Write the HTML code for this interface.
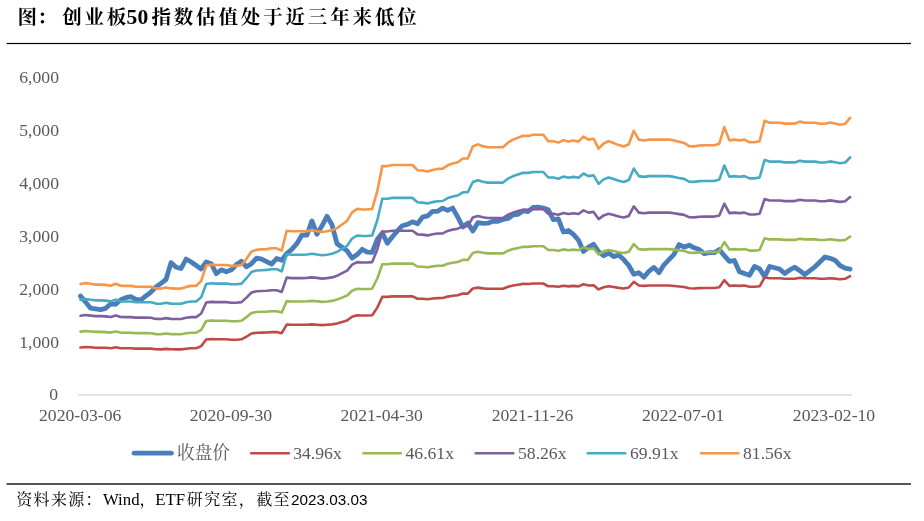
<!DOCTYPE html>
<html lang="zh-CN"><head><meta charset="utf-8"><title>创业板50指数估值</title>
<style>html,body{margin:0;padding:0;background:#fff}body{width:924px;height:521px;overflow:hidden}svg{display:block}</style></head>
<body>
<svg width="924" height="521" viewBox="0 0 924 521">
<rect width="924" height="521" fill="#fff"/>
<line x1="78" y1="395.0" x2="852" y2="395.0" stroke="#D9D9D9" stroke-width="1.5"/>
<path d="M80.5,296.1 L85.5,302.0 L90.6,308.2 L95.6,308.9 L100.6,309.6 L105.7,308.3 L110.7,303.8 L115.7,304.3 L120.7,299.7 L125.8,297.7 L130.8,296.7 L135.8,299.4 L140.9,300.0 L145.9,295.9 L150.9,292.2 L155.9,287.0 L161.0,283.4 L166.0,279.5 L171.0,262.6 L176.1,267.2 L181.1,268.5 L186.1,259.0 L191.2,262.0 L196.2,265.5 L201.2,268.9 L206.2,262.0 L211.3,263.7 L216.3,273.7 L221.3,269.8 L226.4,271.8 L231.4,269.8 L236.4,264.6 L241.5,261.3 L246.5,266.8 L251.5,263.7 L256.6,258.1 L261.6,259.2 L266.6,261.6 L271.6,264.2 L276.7,258.5 L281.7,260.3 L286.7,253.5 L291.8,249.3 L296.8,243.7 L301.8,235.2 L306.9,235.2 L311.9,220.9 L316.9,234.2 L321.9,226.1 L327.0,216.3 L332.0,224.8 L337.0,243.7 L342.1,247.3 L347.1,250.9 L352.1,258.1 L357.2,254.6 L362.2,249.3 L367.2,252.2 L372.2,252.3 L377.3,239.3 L382.3,232.9 L387.3,243.3 L392.4,236.8 L397.4,230.9 L402.4,225.7 L407.4,224.4 L412.5,221.8 L417.5,223.7 L422.5,217.2 L427.6,215.9 L432.6,211.3 L437.6,211.3 L442.7,208.1 L447.7,210.4 L452.7,208.1 L457.8,217.2 L462.8,227.0 L467.8,223.1 L472.8,230.9 L477.9,222.7 L482.9,223.4 L487.9,223.2 L493.0,221.3 L498.0,221.3 L503.0,219.4 L508.1,218.5 L513.1,214.8 L518.1,214.4 L523.1,210.9 L528.2,211.5 L533.2,207.4 L538.2,207.2 L543.3,208.0 L548.3,209.8 L553.3,219.6 L558.4,219.0 L563.4,232.0 L568.4,230.5 L573.4,234.4 L578.5,240.3 L583.5,251.4 L588.5,247.2 L593.6,244.3 L598.6,251.5 L603.6,255.7 L608.6,253.1 L613.7,256.6 L618.7,255.0 L623.7,259.6 L628.8,265.5 L633.8,274.3 L638.8,272.7 L643.9,277.2 L648.9,271.3 L653.9,267.4 L659.0,272.7 L664.0,264.8 L669.0,259.6 L674.0,254.4 L679.1,244.6 L684.1,247.2 L689.1,245.2 L694.2,247.8 L699.2,249.5 L704.2,253.6 L709.2,252.7 L714.3,252.7 L719.3,249.5 L724.3,255.7 L729.4,261.3 L734.4,260.5 L739.4,271.7 L744.5,273.6 L749.5,275.3 L754.5,266.5 L759.6,268.7 L764.6,276.6 L769.6,266.5 L774.6,267.8 L779.7,269.1 L784.7,273.5 L789.7,270.0 L794.8,267.2 L799.8,270.7 L804.8,274.5 L809.9,270.7 L814.9,266.8 L819.9,262.0 L824.9,257.0 L830.0,258.3 L835.0,260.2 L840.0,265.5 L845.1,268.1 L850.1,269.1" fill="none" stroke="#4A7EBB" stroke-width="4.8" stroke-linejoin="round" stroke-linecap="round"/>
<path d="M80.5,347.5 L85.5,347.0 L90.6,347.3 L95.6,347.7 L100.6,347.7 L105.7,347.8 L110.7,348.2 L115.7,347.3 L120.7,348.2 L125.8,348.2 L130.8,348.2 L135.8,348.6 L140.9,348.6 L145.9,348.6 L150.9,348.6 L155.9,349.3 L161.0,349.4 L166.0,348.9 L171.0,349.3 L176.1,349.4 L181.1,349.4 L186.1,348.7 L191.2,348.2 L196.2,348.2 L201.2,346.1 L206.2,339.5 L211.3,339.1 L216.3,339.3 L221.3,339.3 L226.4,339.3 L231.4,339.7 L236.4,339.7 L241.5,339.3 L246.5,336.6 L251.5,333.5 L256.6,332.8 L261.6,332.6 L266.6,332.5 L271.6,332.1 L276.7,332.1 L281.7,333.2 L286.7,324.6 L291.8,324.8 L296.8,324.8 L301.8,324.8 L306.9,324.8 L311.9,324.4 L316.9,324.8 L321.9,325.1 L327.0,324.8 L332.0,324.4 L337.0,323.5 L342.1,321.9 L347.1,320.4 L352.1,316.7 L357.2,315.2 L362.2,315.5 L367.2,315.5 L372.2,315.2 L377.3,307.6 L382.3,296.9 L387.3,296.9 L392.4,296.4 L397.4,296.4 L402.4,296.4 L407.4,296.4 L412.5,296.4 L417.5,298.7 L422.5,298.8 L427.6,299.3 L432.6,298.5 L437.6,298.1 L442.7,298.0 L447.7,296.6 L452.7,295.8 L457.8,295.2 L462.8,293.6 L467.8,293.6 L472.8,288.5 L477.9,287.6 L482.9,288.4 L487.9,288.8 L493.0,288.8 L498.0,288.8 L503.0,288.8 L508.1,286.8 L513.1,285.5 L518.1,284.7 L523.1,283.9 L528.2,284.0 L533.2,283.5 L538.2,283.5 L543.3,283.5 L548.3,286.3 L553.3,286.3 L558.4,286.8 L563.4,285.8 L568.4,286.4 L573.4,285.9 L578.5,286.4 L583.5,284.3 L588.5,285.5 L593.6,285.2 L598.6,289.4 L603.6,287.2 L608.6,286.3 L613.7,287.0 L618.7,287.9 L623.7,288.5 L628.8,287.5 L633.8,281.8 L638.8,285.5 L643.9,285.9 L648.9,285.5 L653.9,285.5 L659.0,285.5 L664.0,285.5 L669.0,285.5 L674.0,286.0 L679.1,286.5 L684.1,287.0 L689.1,288.3 L694.2,288.5 L699.2,288.1 L704.2,288.0 L709.2,288.0 L714.3,288.0 L719.3,287.3 L724.3,280.2 L729.4,285.9 L734.4,285.5 L739.4,285.9 L744.5,285.5 L749.5,286.7 L754.5,286.7 L759.6,286.3 L764.6,277.5 L769.6,278.3 L774.6,278.3 L779.7,278.3 L784.7,278.7 L789.7,278.7 L794.8,278.7 L799.8,277.8 L804.8,278.3 L809.9,278.3 L814.9,278.3 L819.9,278.7 L824.9,278.8 L830.0,278.2 L835.0,278.6 L840.0,279.2 L845.1,278.8 L850.1,276.2" fill="none" stroke="#BE4B48" stroke-width="2.6" stroke-linejoin="round" stroke-linecap="round"/>
<path d="M80.5,331.6 L85.5,331.0 L90.6,331.5 L95.6,331.9 L100.6,331.9 L105.7,332.1 L110.7,332.6 L115.7,331.4 L120.7,332.6 L125.8,332.7 L130.8,332.7 L135.8,333.1 L140.9,333.1 L145.9,333.1 L150.9,333.2 L155.9,334.1 L161.0,334.2 L166.0,333.5 L171.0,334.1 L176.1,334.2 L181.1,334.2 L186.1,333.2 L191.2,332.7 L196.2,332.7 L201.2,329.8 L206.2,321.0 L211.3,320.5 L216.3,320.7 L221.3,320.7 L226.4,320.7 L231.4,321.2 L236.4,321.2 L241.5,320.7 L246.5,317.1 L251.5,313.0 L256.6,312.0 L261.6,311.8 L266.6,311.6 L271.6,311.2 L276.7,311.2 L281.7,312.5 L286.7,301.1 L291.8,301.5 L296.8,301.5 L301.8,301.5 L306.9,301.3 L311.9,300.9 L316.9,301.3 L321.9,301.9 L327.0,301.5 L332.0,300.9 L337.0,299.6 L342.1,297.6 L347.1,295.5 L352.1,290.7 L357.2,288.7 L362.2,289.0 L367.2,289.0 L372.2,288.7 L377.3,278.5 L382.3,264.2 L387.3,264.2 L392.4,263.6 L397.4,263.6 L402.4,263.6 L407.4,263.6 L412.5,263.6 L417.5,266.5 L422.5,266.7 L427.6,267.3 L432.6,266.4 L437.6,265.8 L442.7,265.7 L447.7,263.7 L452.7,262.7 L457.8,262.0 L462.8,259.9 L467.8,259.9 L472.8,253.0 L477.9,251.8 L482.9,252.8 L487.9,253.4 L493.0,253.4 L498.0,253.4 L503.0,253.4 L508.1,250.7 L513.1,249.1 L518.1,247.9 L523.1,246.8 L528.2,246.9 L533.2,246.3 L538.2,246.3 L543.3,246.3 L548.3,250.0 L553.3,250.0 L558.4,250.8 L563.4,249.4 L568.4,250.2 L573.4,249.6 L578.5,250.2 L583.5,247.3 L588.5,249.1 L593.6,248.5 L598.6,254.3 L603.6,251.3 L608.6,250.0 L613.7,251.1 L618.7,252.2 L623.7,253.0 L628.8,251.7 L633.8,244.0 L638.8,249.1 L643.9,249.6 L648.9,249.1 L653.9,249.1 L659.0,249.1 L664.0,249.1 L669.0,249.1 L674.0,249.6 L679.1,250.3 L684.1,250.9 L689.1,252.8 L694.2,252.9 L699.2,252.4 L704.2,252.3 L709.2,252.3 L714.3,252.3 L719.3,251.4 L724.3,242.0 L729.4,249.5 L734.4,249.1 L739.4,249.5 L744.5,249.1 L749.5,250.6 L754.5,250.6 L759.6,250.0 L764.6,238.3 L769.6,239.4 L774.6,239.4 L779.7,239.4 L784.7,239.9 L789.7,239.9 L794.8,239.9 L799.8,238.8 L804.8,239.4 L809.9,239.4 L814.9,239.4 L819.9,240.0 L824.9,240.0 L830.0,239.3 L835.0,239.9 L840.0,240.5 L845.1,240.0 L850.1,236.7" fill="none" stroke="#98B954" stroke-width="2.6" stroke-linejoin="round" stroke-linecap="round"/>
<path d="M80.5,315.8 L85.5,315.0 L90.6,315.6 L95.6,316.1 L100.6,316.1 L105.7,316.4 L110.7,317.0 L115.7,315.5 L120.7,317.0 L125.8,317.1 L130.8,317.1 L135.8,317.6 L140.9,317.6 L145.9,317.6 L150.9,317.7 L155.9,318.9 L161.0,319.0 L166.0,318.1 L171.0,318.9 L176.1,319.0 L181.1,319.0 L186.1,317.8 L191.2,317.1 L196.2,317.1 L201.2,313.5 L206.2,302.5 L211.3,301.9 L216.3,302.1 L221.3,302.1 L226.4,302.1 L231.4,302.8 L236.4,302.8 L241.5,302.1 L246.5,297.6 L251.5,292.5 L256.6,291.3 L261.6,291.0 L266.6,290.8 L271.6,290.2 L276.7,290.2 L281.7,291.9 L286.7,277.6 L291.8,278.1 L296.8,278.1 L301.8,278.1 L306.9,277.9 L311.9,277.4 L316.9,277.9 L321.9,278.6 L327.0,278.1 L332.0,277.4 L337.0,275.8 L342.1,273.2 L347.1,270.6 L352.1,264.6 L357.2,262.1 L362.2,262.5 L367.2,262.5 L372.2,262.1 L377.3,249.4 L382.3,231.5 L387.3,231.5 L392.4,230.7 L397.4,230.7 L402.4,230.7 L407.4,230.7 L412.5,230.7 L417.5,234.4 L422.5,234.6 L427.6,235.4 L432.6,234.2 L437.6,233.5 L442.7,233.4 L447.7,230.9 L452.7,229.6 L457.8,228.7 L462.8,226.1 L467.8,226.1 L472.8,217.5 L477.9,216.0 L482.9,217.3 L487.9,218.0 L493.0,218.0 L498.0,218.0 L503.0,218.0 L508.1,214.6 L513.1,212.6 L518.1,211.1 L523.1,209.8 L528.2,209.9 L533.2,209.1 L538.2,209.1 L543.3,209.1 L548.3,213.8 L553.3,213.8 L558.4,214.7 L563.4,213.0 L568.4,214.0 L573.4,213.2 L578.5,214.0 L583.5,210.4 L588.5,212.6 L593.6,211.9 L598.6,219.1 L603.6,215.4 L608.6,213.8 L613.7,215.1 L618.7,216.5 L623.7,217.5 L628.8,215.9 L633.8,206.3 L638.8,212.6 L643.9,213.2 L648.9,212.6 L653.9,212.6 L659.0,212.6 L664.0,212.6 L669.0,212.6 L674.0,213.3 L679.1,214.1 L684.1,214.9 L689.1,217.2 L694.2,217.4 L699.2,216.8 L704.2,216.6 L709.2,216.6 L714.3,216.6 L719.3,215.5 L724.3,203.7 L729.4,213.1 L734.4,212.6 L739.4,213.1 L744.5,212.6 L749.5,214.5 L754.5,214.5 L759.6,213.8 L764.6,199.1 L769.6,200.5 L774.6,200.5 L779.7,200.5 L784.7,201.1 L789.7,201.1 L794.8,201.1 L799.8,199.7 L804.8,200.5 L809.9,200.5 L814.9,200.5 L819.9,201.2 L824.9,201.3 L830.0,200.4 L835.0,201.1 L840.0,201.9 L845.1,201.3 L850.1,197.1" fill="none" stroke="#7D60A0" stroke-width="2.6" stroke-linejoin="round" stroke-linecap="round"/>
<path d="M80.5,299.9 L85.5,299.0 L90.6,299.7 L95.6,300.4 L100.6,300.4 L105.7,300.6 L110.7,301.4 L115.7,299.6 L120.7,301.4 L125.8,301.5 L130.8,301.5 L135.8,302.2 L140.9,302.2 L145.9,302.2 L150.9,302.3 L155.9,303.6 L161.0,303.8 L166.0,302.8 L171.0,303.6 L176.1,303.8 L181.1,303.8 L186.1,302.3 L191.2,301.5 L196.2,301.5 L201.2,297.2 L206.2,284.0 L211.3,283.2 L216.3,283.6 L221.3,283.6 L226.4,283.6 L231.4,284.3 L236.4,284.3 L241.5,283.6 L246.5,278.2 L251.5,272.0 L256.6,270.5 L261.6,270.2 L266.6,269.9 L271.6,269.3 L276.7,269.3 L281.7,271.3 L286.7,254.2 L291.8,254.7 L296.8,254.7 L301.8,254.7 L306.9,254.5 L311.9,253.8 L316.9,254.5 L321.9,255.3 L327.0,254.7 L332.0,253.8 L337.0,251.9 L342.1,248.9 L347.1,245.8 L352.1,238.5 L357.2,235.5 L362.2,236.0 L367.2,236.0 L372.2,235.5 L377.3,220.2 L382.3,198.8 L387.3,198.8 L392.4,197.9 L397.4,197.9 L402.4,197.9 L407.4,197.9 L412.5,197.9 L417.5,202.3 L422.5,202.6 L427.6,203.5 L432.6,202.1 L437.6,201.2 L442.7,201.0 L447.7,198.1 L452.7,196.6 L457.8,195.5 L462.8,192.3 L467.8,192.3 L472.8,182.0 L477.9,180.2 L482.9,181.7 L487.9,182.6 L493.0,182.6 L498.0,182.6 L503.0,182.6 L508.1,178.6 L513.1,176.1 L518.1,174.4 L523.1,172.7 L528.2,172.9 L533.2,172.0 L538.2,172.0 L543.3,172.0 L548.3,177.5 L553.3,177.5 L558.4,178.7 L563.4,176.6 L568.4,177.8 L573.4,176.9 L578.5,177.8 L583.5,173.5 L588.5,176.1 L593.6,175.3 L598.6,183.9 L603.6,179.4 L608.6,177.5 L613.7,179.1 L618.7,180.8 L623.7,182.0 L628.8,180.0 L633.8,168.5 L638.8,176.1 L643.9,176.9 L648.9,176.1 L653.9,176.1 L659.0,176.1 L664.0,176.1 L669.0,176.1 L674.0,176.9 L679.1,178.0 L684.1,178.9 L689.1,181.7 L694.2,181.9 L699.2,181.1 L704.2,181.0 L709.2,181.0 L714.3,181.0 L719.3,179.6 L724.3,165.5 L729.4,176.8 L734.4,176.1 L739.4,176.8 L744.5,176.1 L749.5,178.4 L754.5,178.4 L759.6,177.5 L764.6,160.0 L769.6,161.6 L774.6,161.6 L779.7,161.6 L784.7,162.4 L789.7,162.4 L794.8,162.4 L799.8,160.7 L804.8,161.6 L809.9,161.6 L814.9,161.6 L819.9,162.5 L824.9,162.5 L830.0,161.4 L835.0,162.3 L840.0,163.3 L845.1,162.5 L850.1,157.5" fill="none" stroke="#46AAC5" stroke-width="2.6" stroke-linejoin="round" stroke-linecap="round"/>
<path d="M80.5,284.1 L85.5,283.1 L90.6,283.8 L95.6,284.6 L100.6,284.6 L105.7,284.9 L110.7,285.8 L115.7,283.7 L120.7,285.8 L125.8,285.9 L130.8,285.9 L135.8,286.7 L140.9,286.7 L145.9,286.7 L150.9,286.8 L155.9,288.4 L161.0,288.6 L166.0,287.4 L171.0,288.4 L176.1,288.6 L181.1,288.6 L186.1,286.9 L191.2,285.9 L196.2,285.9 L201.2,280.9 L206.2,265.5 L211.3,264.6 L216.3,265.0 L221.3,265.0 L226.4,265.0 L231.4,265.9 L236.4,265.9 L241.5,265.0 L246.5,258.7 L251.5,251.5 L256.6,249.8 L261.6,249.4 L266.6,249.1 L271.6,248.3 L276.7,248.3 L281.7,250.7 L286.7,230.7 L291.8,231.3 L296.8,231.3 L301.8,231.3 L306.9,231.1 L311.9,230.3 L316.9,231.1 L321.9,232.0 L327.0,231.3 L332.0,230.3 L337.0,228.1 L342.1,224.5 L347.1,220.9 L352.1,212.4 L357.2,208.9 L362.2,209.5 L367.2,209.5 L372.2,208.9 L377.3,191.1 L382.3,166.1 L387.3,166.1 L392.4,165.0 L397.4,165.0 L402.4,165.0 L407.4,165.0 L412.5,165.0 L417.5,170.2 L422.5,170.5 L427.6,171.6 L432.6,169.9 L437.6,168.9 L442.7,168.7 L447.7,165.3 L452.7,163.5 L457.8,162.2 L462.8,158.5 L467.8,158.5 L472.8,146.5 L477.9,144.4 L482.9,146.2 L487.9,147.2 L493.0,147.2 L498.0,147.2 L503.0,147.2 L508.1,142.5 L513.1,139.6 L518.1,137.6 L523.1,135.7 L528.2,135.9 L533.2,134.8 L538.2,134.8 L543.3,134.8 L548.3,141.3 L553.3,141.3 L558.4,142.6 L563.4,140.2 L568.4,141.6 L573.4,140.5 L578.5,141.6 L583.5,136.6 L588.5,139.6 L593.6,138.7 L598.6,148.7 L603.6,143.5 L608.6,141.3 L613.7,143.1 L618.7,145.1 L623.7,146.5 L628.8,144.2 L633.8,130.8 L638.8,139.6 L643.9,140.5 L648.9,139.6 L653.9,139.6 L659.0,139.6 L664.0,139.6 L669.0,139.6 L674.0,140.6 L679.1,141.8 L684.1,142.9 L689.1,146.1 L694.2,146.4 L699.2,145.5 L704.2,145.3 L709.2,145.3 L714.3,145.3 L719.3,143.7 L724.3,127.2 L729.4,140.4 L734.4,139.6 L739.4,140.4 L744.5,139.6 L749.5,142.3 L754.5,142.3 L759.6,141.3 L764.6,120.8 L769.6,122.7 L774.6,122.7 L779.7,122.7 L784.7,123.6 L789.7,123.6 L794.8,123.6 L799.8,121.6 L804.8,122.7 L809.9,122.7 L814.9,122.7 L819.9,123.7 L824.9,123.8 L830.0,122.5 L835.0,123.5 L840.0,124.7 L845.1,123.8 L850.1,117.9" fill="none" stroke="#F79646" stroke-width="2.6" stroke-linejoin="round" stroke-linecap="round"/>
<g font-family="'Liberation Serif', serif" font-size="17.65" fill="#595959">
<text x="58.2" y="400.3" text-anchor="end">0</text>
<text x="59" y="347.8" text-anchor="end">1,000</text>
<text x="59" y="294.8" text-anchor="end">2,000</text>
<text x="59" y="241.8" text-anchor="end">3,000</text>
<text x="59" y="188.9" text-anchor="end">4,000</text>
<text x="59" y="135.9" text-anchor="end">5,000</text>
<text x="59" y="82.9" text-anchor="end">6,000</text>
<text x="80.2" y="420.9" text-anchor="middle">2020-03-06</text>
<text x="230.9" y="420.9" text-anchor="middle">2020-09-30</text>
<text x="381.7" y="420.9" text-anchor="middle">2021-04-30</text>
<text x="532.5" y="420.9" text-anchor="middle">2021-11-26</text>
<text x="683.2" y="420.9" text-anchor="middle">2022-07-01</text>
<text x="834.0" y="420.9" text-anchor="middle">2023-02-10</text>
</g>
<g font-family="'Liberation Serif', 'Noto Serif CJK SC', serif" font-size="17.65" fill="#595959">
<line x1="134.0" y1="453.2" x2="171.4" y2="453.2" stroke="#4A7EBB" stroke-width="4.8" stroke-linecap="round"/>
<text x="177" y="459">收盘价</text>
<line x1="251.3" y1="453.2" x2="288.7" y2="453.2" stroke="#BE4B48" stroke-width="2.6" stroke-linecap="round"/>
<text x="293.2" y="459">34.96x</text>
<line x1="363.5" y1="453.2" x2="400.7" y2="453.2" stroke="#98B954" stroke-width="2.6" stroke-linecap="round"/>
<text x="405.5" y="459">46.61x</text>
<line x1="475.8" y1="453.2" x2="513.2" y2="453.2" stroke="#7D60A0" stroke-width="2.6" stroke-linecap="round"/>
<text x="518" y="459">58.26x</text>
<line x1="587.8" y1="453.2" x2="625.2" y2="453.2" stroke="#46AAC5" stroke-width="2.6" stroke-linecap="round"/>
<text x="630" y="459">69.91x</text>
<line x1="701.3" y1="453.2" x2="738.2" y2="453.2" stroke="#F79646" stroke-width="2.6" stroke-linecap="round"/>
<text x="743" y="459">81.56x</text>
</g>
<rect x="6.5" y="42.9" width="904.5" height="1.2" fill="#000"/>
<rect x="6.5" y="483" width="904.5" height="2" fill="#555"/>
<g font-family="'Liberation Serif', 'Noto Serif CJK SC', serif" font-weight="bold" fill="#000">
<text x="17.6" y="23.6" font-size="19.5" letter-spacing="2.75">图<tspan dx="-2.6">：</tspan><tspan dx="2.6">创业板</tspan></text>
<text x="126.6" y="24.2" font-size="21.6">50</text>
<text x="151.4" y="23.6" font-size="19.5" letter-spacing="2.85">指数估值处于近三年来低位</text>
</g>
<text x="16.2" y="505" font-family="'Liberation Serif', 'Noto Serif CJK SC', serif" font-size="16.8" fill="#000"><tspan font-size="16" letter-spacing="1.35">资料来源：</tspan>Wind<tspan font-size="16" letter-spacing="1.35">，</tspan><tspan dx="-1.6">ETF</tspan><tspan font-size="16" letter-spacing="1.35" dx="1.6">研究室，截至</tspan><tspan font-family="'Liberation Sans', sans-serif" font-size="15.3">2023.03.03</tspan></text>
</svg>
</body></html>
